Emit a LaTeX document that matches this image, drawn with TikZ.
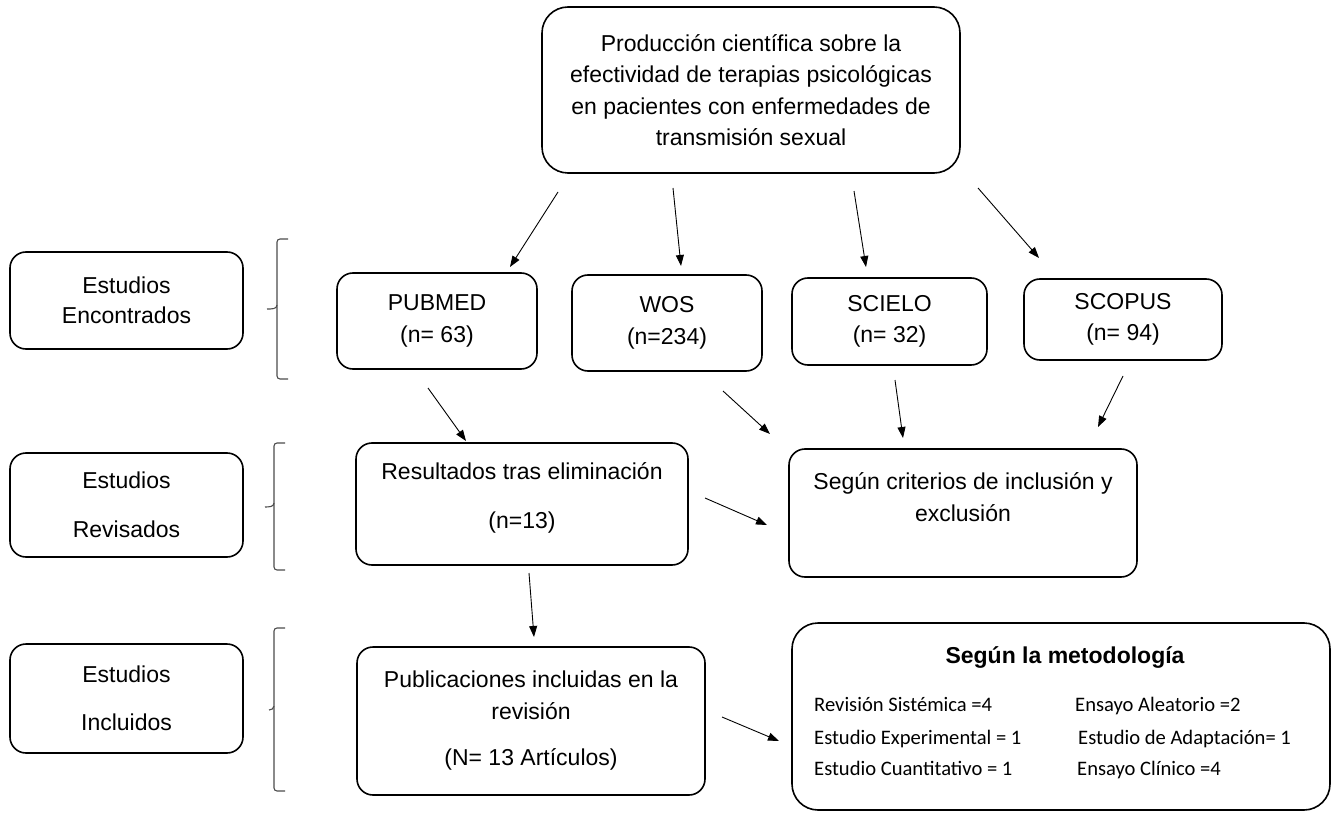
\documentclass[tikz,border=0pt]{standalone}
\usepackage{fontspec}
\setmainfont{Liberation Sans}
\newfontfamily\carlito{Carlito}
\usetikzlibrary{arrows.meta,calc}
\tikzset{
  box/.style={draw, line width=1.6pt, rounded corners=16pt, inner sep=0pt, align=center,
    font=\fontsize{23}{31.5}\selectfont},
  arr/.style={line width=0.9pt, -{Triangle[length=11pt,width=8pt]}},
  brace/.style={draw=black!70, line width=1.1pt},
  item/.style={anchor=base west, inner sep=0pt, font=\carlito\fontsize{20.6}{24}\selectfont}
}
\begin{document}
\begin{tikzpicture}[x=1pt,y=-1pt]
\useasboundingbox (0,0) rectangle (1339,813);
% main boxes
\node[box, rounded corners=26pt, minimum width=418pt, minimum height=166pt] (top) at (751,90)
  {Producción científica sobre la\\efectividad de terapias psicológicas\\en pacientes con enfermedades de\\transmisión sexual};
\node[box, minimum width=233pt, minimum height=97pt] (enc) at (126.5,300.5) {Estudios\\[-1.5pt]Encontrados};
\node[box, minimum width=233pt, minimum height=104pt] (rev) at (126.5,505) {Estudios\\[17pt]Revisados};
\node[box, minimum width=233pt, minimum height=109pt] (inc) at (126.5,698.5) {Estudios\\[17pt]Incluidos};
\node[box, minimum width=200pt, minimum height=96pt] (pub) at (437,321) {PUBMED\\[1pt](n= 63)};
\node[box, minimum width=190pt, minimum height=96pt] (wos) at (667,323) {WOS\\[1pt](n=234)};
\node[box, minimum width=195pt, minimum height=87pt] (sci) at (889.5,321.5) {SCIELO\\(n= 32)};
\node[box, minimum width=198pt, minimum height=81pt] (sco) at (1123,319.5) {SCOPUS\\(n= 94)};
\node[box, minimum width=332pt, minimum height=122pt] (res) at (522,504) {};
\node[font=\fontsize{23}{31.5}\selectfont, align=center, inner sep=0pt] (rest) at (522,498) {Resultados tras eliminación\\[18pt](n=13)};
\node[box, minimum width=348pt, minimum height=128pt] (cri) at (963,513) {};
\node[font=\fontsize{23}{32}\selectfont, align=center, inner sep=0pt] (crit) at (963,497) {Según criterios de inclusión y\\exclusión};
\node[box, minimum width=348pt, minimum height=148pt] (pubs) at (531,721) {Publicaciones incluidas en la\\revisión\\[15pt](N= 13 Artículos)};
\node[box, rounded corners=26pt, minimum width=538pt, minimum height=187pt] (met) at (1061,716.5) {};
\node[font=\bfseries\fontsize{23}{28}\selectfont, inner sep=0pt] (mett) at (1065,657) {Según la metodología};
\node[item] (m1) at (814,711) {Revisión Sistémica =4};
\node[item] (m2) at (814,744) {Estudio Experimental = 1};
\node[item] (m3) at (814,775) {Estudio Cuantitativo = 1};
\node[item] (m4) at (1075,711) {Ensayo Aleatorio =2};
\node[item] (m5) at (1078,744) {Estudio de Adaptación= 1};
\node[item] (m6) at (1077,775) {Ensayo Clínico =4};
% braces
\draw[brace] (288,239) -- (280,239) to[out=180,in=90] (277,242) -- (277,305) to[out=-90,in=0] (267,309);
\draw[brace] (277,305) -- (277,376) to[out=-90,in=180] (280,379) -- (288,379);
\draw[brace] (285,443) -- (277,443) to[out=180,in=90] (274,446) -- (274,503) to[out=-90,in=0] (265,507);
\draw[brace] (274,503) -- (274,567) to[out=-90,in=180] (277,570) -- (285,570);
\draw[brace] (285,628) -- (277,628) to[out=180,in=90] (274,631) -- (274,706) to[out=-90,in=0] (269,710);
\draw[brace] (274,706) -- (274,788) to[out=-90,in=180] (277,791) -- (285,791);
% arrows
\draw[arr] ($(top)+(-193,102)$) -- ($(pub)+(73,-54)$);
\draw[arr] ($(top)+(-78,98)$) -- ($(wos)+(14,-57)$);
\draw[arr] ($(top)+(103,101)$) -- ($(sci)+(-23.5,-54.5)$);
\draw[arr] ($(top)+(227,98)$) -- ($(sco)+(-84,-61.5)$);
\draw[arr] ($(pub)+(-9,67)$) -- ($(res)+(-56,-63)$);
\draw[arr] ($(wos)+(56,68)$) -- ($(cri)+(-193,-79)$);
\draw[arr] ($(sci)+(5.5,58.5)$) -- ($(cri)+(-60,-75)$);
\draw[arr] ($(sco)+(0,56.5)$) -- ($(cri)+(135,-86)$);
\draw[arr] ($(res)+(183,-6)$) -- ($(cri)+(-196,12)$);
\draw[arr] ($(res)+(7,69)$) -- ($(pubs)+(3,-84)$);
\draw[arr] ($(pubs)+(191,-4)$) -- ($(met)+(-282,24.5)$);
\end{tikzpicture}
\end{document}
